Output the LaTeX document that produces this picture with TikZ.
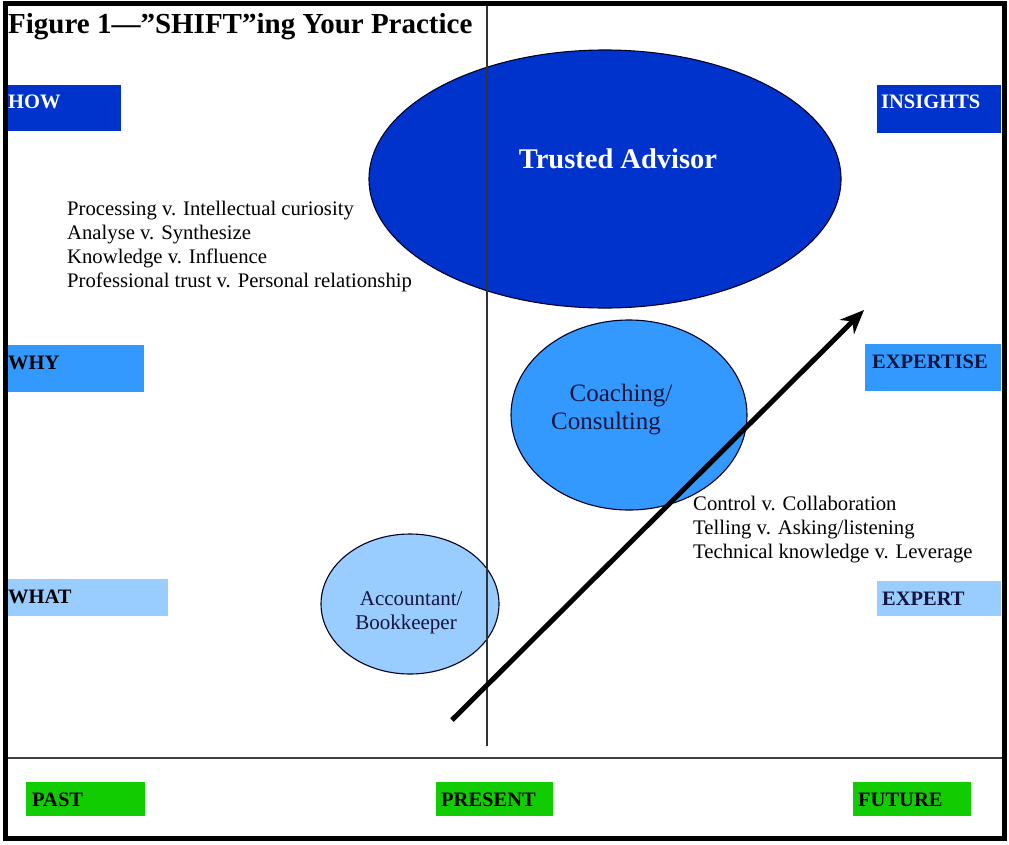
\documentclass[tikz,border=0pt]{standalone}
\usepackage{fontspec}
\setmainfont{Liberation Serif}
\usetikzlibrary{shapes.geometric,arrows.meta}

\definecolor{deepblue}{HTML}{0033CC}
\definecolor{midblue}{HTML}{3399FF}
\definecolor{paleblue}{HTML}{99CCFF}
\definecolor{tabgreen}{HTML}{11CC00}
\definecolor{inkblue}{HTML}{14143C}

\tikzset{
  tab/.style={anchor=north west, inner sep=0pt, outer sep=0pt},
  tabtext/.style={anchor=base west, inner sep=0pt, font=\fontsize{20.5}{24}\selectfont\bfseries},
  bubble/.style={ellipse, draw=black!85!blue, line width=1.1pt, inner sep=0pt},
  pairs/.style={anchor=base west, inner sep=0pt, align=left, font=\fontsize{20.7}{24}\selectfont},
}

\begin{document}
\begin{tikzpicture}[x=1pt, y=-1pt]
  \useasboundingbox (0,0) rectangle (1009,844);

  % ellipses
  \node[bubble, fill=deepblue, minimum width=472, minimum height=258] (trusted) at (605,179) {};
  \node[bubble, fill=midblue, minimum width=236, minimum height=190] (coach) at (629,415) {};
  \node[bubble, fill=paleblue, minimum width=178, minimum height=140] (acct) at (410,604) {};

  \node[anchor=base, inner sep=0pt, text=white, font=\fontsize{28.5}{32}\selectfont\bfseries] (trustedtext) at (618,168) {Trusted Advisor};
  \node[anchor=base, inner sep=0pt, align=center, text=inkblue, font=\fontsize{25}{28}\selectfont] (coachtext) at (606,429) {\hspace*{1.2em}Coaching/\\Consulting};
  \node[anchor=base, inner sep=0pt, align=center, text=inkblue, font=\fontsize{21}{24}\selectfont] (accttext) at (406,629) {\hspace*{0.5em}Accountant/\\Bookkeeper};

  % time line
  \draw[black!80, line width=1.1pt] (487,3) -- (487,746);
  \draw[black!75, line width=2pt] (5,758) -- (1004,758);

  % left and right boxes
  \node[tab, fill=deepblue, minimum width=113, minimum height=46] (how) at (8,85) {};
  \node[tab, fill=midblue, minimum width=136, minimum height=47] (why) at (8,345) {};
  \node[tab, fill=paleblue, minimum width=160, minimum height=37] (what) at (8,579) {};
  \node[tab, fill=deepblue, minimum width=124, minimum height=48] (insights) at (877,85) {};
  \node[tab, fill=midblue, minimum width=136, minimum height=47] (expertise) at (865,344) {};
  \node[tab, fill=paleblue, minimum width=124, minimum height=35] (expert) at (877,581) {};

  \node[tabtext, text=white] (howtext) at (8,108) {HOW};
  \node[tabtext] (whytext) at (8,369) {WHY};
  \node[tabtext] (whattext) at (8,603) {WHAT};
  \node[tabtext, text=white] (insightstext) at (881,108) {INSIGHTS};
  \node[tabtext, text=inkblue] (expertisetext) at (872,368) {EXPERTISE};
  \node[tabtext, text=inkblue] (experttext) at (882,605) {EXPERT};

  % bottom boxes
  \node[tab, fill=tabgreen, minimum width=119, minimum height=34] (past) at (26,782) {};
  \node[tab, fill=tabgreen, minimum width=117, minimum height=34] (present) at (436,782) {};
  \node[tab, fill=tabgreen, minimum width=118, minimum height=34] (future) at (853,782) {};
  \node[tabtext] (pasttext) at (32,806) {PAST};
  \node[tabtext] (presenttext) at (441,806) {PRESENT};
  \node[tabtext] (futuretext) at (858,806) {FUTURE};

  % shift pairs
  \node[pairs] (upper) at (67,287) {Processing v. Intellectual curiosity\\Analyse v. Synthesize\\Knowledge v. Influence\\Professional trust v. Personal relationship};
  \node[pairs] (lower) at (693,558) {Control v. Collaboration\\Telling v. Asking/listening\\Technical knowledge v. Leverage};

  % title
  \node[anchor=base west, inner sep=0pt, font=\fontsize{29}{32}\selectfont\bfseries] (title) at (8,33) {Figure 1—”SHIFT”ing Your Practice};

  % the shift arrow
  \coordinate (start) at (452,720);
  \coordinate (goal) at (864,310);
  \draw[line width=5pt, -{Stealth[length=24pt, width=20pt]}] (start) -- (goal);

  % frame
  \draw[line width=5pt] (5,3) rectangle (1004,838);
\end{tikzpicture}
\end{document}
